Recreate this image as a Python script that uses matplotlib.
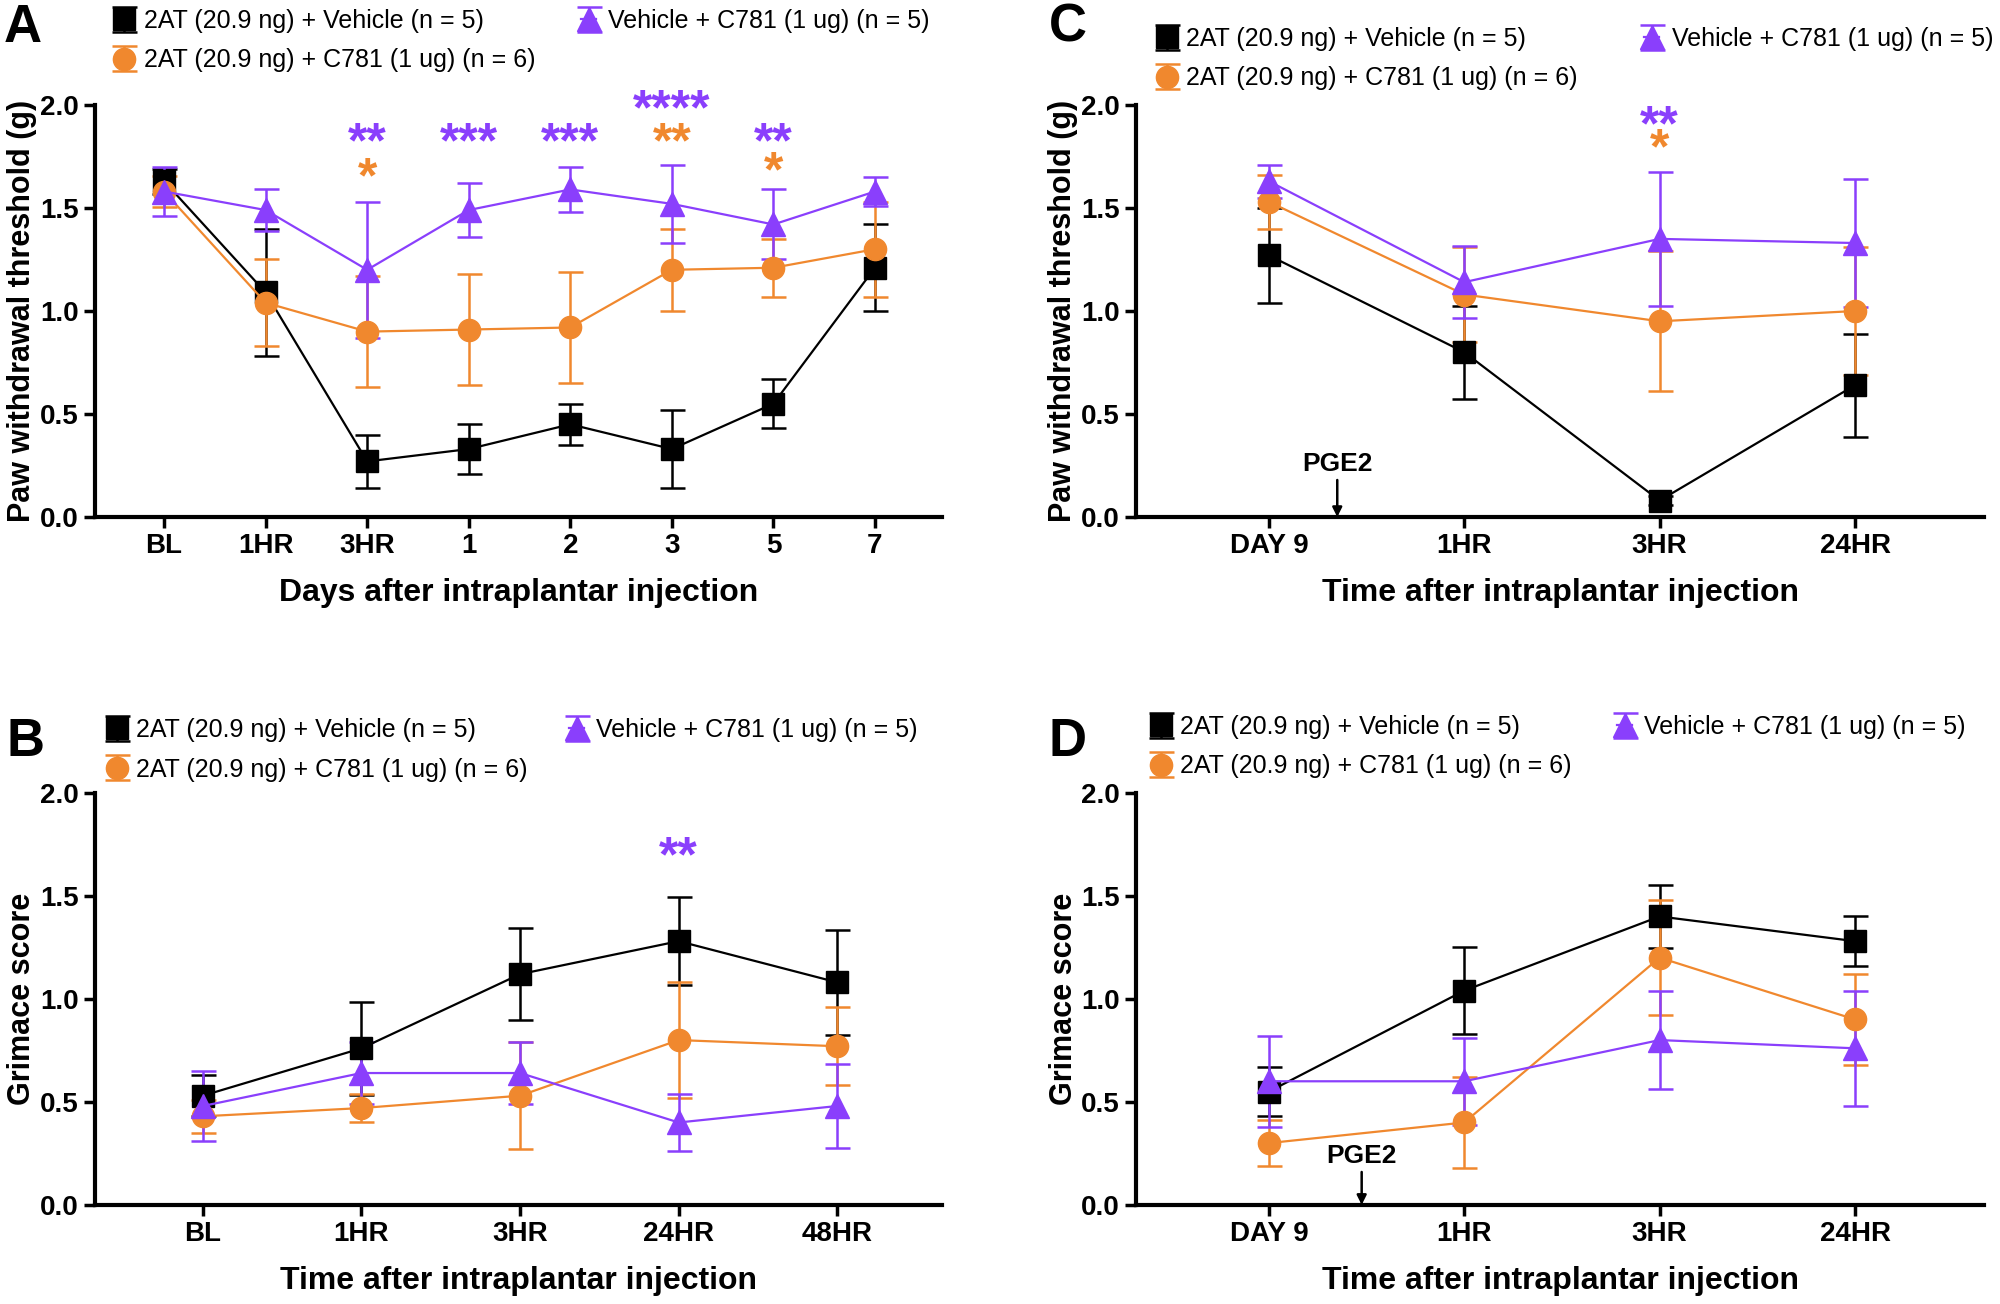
import matplotlib
matplotlib.use('Agg')
import matplotlib.pyplot as plt

BLACK = '#000000'
ORANGE = '#F0882E'
PURPLE = '#8A3FFC'

legend_labels = ['2AT (20.9 ng) + Vehicle (n = 5)',
                 '2AT (20.9 ng) + C781 (1 ug) (n = 6)',
                 'Vehicle + C781 (1 ug) (n = 5)']

# Panel A - paw withdrawal, days
a_ticks = ['BL', '1HR', '3HR', '1', '2', '3', '5', '7']
a_veh = [1.63, 1.09, 0.27, 0.33, 0.45, 0.33, 0.55, 1.21]
a_veh_err = [0.06, 0.31, 0.13, 0.12, 0.10, 0.19, 0.12, 0.21]
a_c781 = [1.58, 1.04, 0.90, 0.91, 0.92, 1.20, 1.21, 1.30]
a_c781_err = [0.075, 0.21, 0.27, 0.27, 0.27, 0.20, 0.14, 0.23]
a_vc = [1.58, 1.49, 1.20, 1.49, 1.59, 1.52, 1.42, 1.58]
a_vc_err = [0.12, 0.10, 0.33, 0.13, 0.11, 0.19, 0.17, 0.07]
a_stars = [(2, '**', PURPLE, 1.86), (2, '*', ORANGE, 1.69),
           (3, '***', PURPLE, 1.86), (4, '***', PURPLE, 1.86),
           (5, '****', PURPLE, 2.02), (5, '**', ORANGE, 1.86),
           (6, '**', PURPLE, 1.86), (6, '*', ORANGE, 1.72)]

# Panel B - grimace, hours
b_ticks = ['BL', '1HR', '3HR', '24HR', '48HR']
b_veh = [0.53, 0.76, 1.12, 1.28, 1.08]
b_veh_err = [0.10, 0.225, 0.225, 0.215, 0.255]
b_c781 = [0.43, 0.47, 0.53, 0.80, 0.77]
b_c781_err = [0.08, 0.068, 0.26, 0.28, 0.19]
b_vc = [0.48, 0.64, 0.64, 0.40, 0.48]
b_vc_err = [0.17, 0.15, 0.15, 0.14, 0.205]
b_stars = [(3, '**', PURPLE, 1.73)]

# Panel C - paw withdrawal after PGE2
c_ticks = ['DAY 9', '1HR', '3HR', '24HR']
c_veh = [1.27, 0.80, 0.08, 0.64]
c_veh_err = [0.23, 0.225, 0.02, 0.25]
c_c781 = [1.53, 1.08, 0.95, 1.00]
c_c781_err = [0.13, 0.23, 0.34, 0.31]
c_vc = [1.63, 1.14, 1.35, 1.33]
c_vc_err = [0.08, 0.175, 0.325, 0.31]
c_stars = [(2, '**', PURPLE, 1.94), (2, '*', ORANGE, 1.83)]
c_pge2 = 0.35

# Panel D - grimace after PGE2
d_ticks = ['DAY 9', '1HR', '3HR', '24HR']
d_veh = [0.55, 1.04, 1.40, 1.28]
d_veh_err = [0.12, 0.21, 0.155, 0.12]
d_c781 = [0.30, 0.40, 1.20, 0.90]
d_c781_err = [0.113, 0.22, 0.28, 0.223]
d_vc = [0.60, 0.60, 0.80, 0.76]
d_vc_err = [0.22, 0.21, 0.236, 0.28]
d_stars = []
d_pge2 = 0.475

plt.rcParams['font.family'] = ['Liberation Sans', 'DejaVu Sans']

fig = plt.figure(figsize=(20, 13.04), dpi=100)


def panel(rect, ticks, data, ylabel, xlabel, stars, pge2=None, pge2_y=0.2):
    ax = fig.add_axes(rect)
    xs = list(range(len(ticks)))
    handles = []
    for (vals, errs, col, mk, ms) in data:
        h = ax.errorbar(xs, vals, yerr=errs, color=col, marker=mk, ms=ms,
                        lw=1.6, elinewidth=1.8, capsize=9, capthick=1.8,
                        clip_on=False, zorder=3)
        handles.append(h)
    ax.set_xlim(-0.68, len(ticks) - 1 + 0.66)
    ax.set_ylim(0, 2.0)
    ax.set_yticks([0, 0.5, 1.0, 1.5, 2.0])
    ax.set_yticklabels(['0.0', '0.5', '1.0', '1.5', '2.0'])
    ax.set_xticks(xs)
    ax.set_xticklabels(ticks)
    for s in ['top', 'right']:
        ax.spines[s].set_visible(False)
    for s in ['left', 'bottom']:
        ax.spines[s].set_linewidth(3)
    ax.tick_params(width=2.5, length=8, direction='out', labelsize=20)
    for lab in ax.get_xticklabels() + ax.get_yticklabels():
        lab.set_fontweight('bold')
    ax.set_ylabel(ylabel, fontsize=22, fontweight='bold', labelpad=2)
    ax.set_xlabel(xlabel, fontsize=23, fontweight='bold', labelpad=14)
    for (i, txt, col, y) in stars:
        # shift so the asterisk glyphs (not the text box) sit at y
        ax.text(i, y - 0.05, txt, color=col, ha='center', va='center',
                fontsize=36, fontweight='bold')
    if pge2 is not None:
        ax.annotate('PGE2', xy=(pge2, 0), xytext=(pge2, pge2_y),
                    ha='center', va='bottom', fontsize=19, fontweight='bold',
                    arrowprops=dict(arrowstyle='-|>', color='k', lw=1.8,
                                    shrinkA=1, shrinkB=0, mutation_scale=14))
    return ax, handles


def series(v, ve, c, ce, p, pe):
    return [(v, ve, BLACK, 's', 16), (c, ce, ORANGE, 'o', 16), (p, pe, PURPLE, '^', 17)]


W = 0.4235
H = 0.316
axA, hA = panel([0.0475, 0.6035, W, H], a_ticks,
                series(a_veh, a_veh_err, a_c781, a_c781_err, a_vc, a_vc_err),
                'Paw withdrawal threshold (g)', 'Days after intraplantar injection', a_stars)
axB, hB = panel([0.0475, 0.076, W, H], b_ticks,
                series(b_veh, b_veh_err, b_c781, b_c781_err, b_vc, b_vc_err),
                'Grimace score', 'Time after intraplantar injection', b_stars)
axC, hC = panel([0.568, 0.6035, 0.424, H], c_ticks,
                series(c_veh, c_veh_err, c_c781, c_c781_err, c_vc, c_vc_err),
                'Paw withdrawal threshold (g)', 'Time after intraplantar injection', c_stars, c_pge2)
axD, hD = panel([0.568, 0.076, 0.424, H], d_ticks,
                series(d_veh, d_veh_err, d_c781, d_c781_err, d_vc, d_vc_err),
                'Grimace score', 'Time after intraplantar injection', d_stars, d_pge2, 0.18)

# legends: black/orange stacked on the left, purple on the right
leg_kw = dict(loc='upper left', frameon=False, handlelength=0.6, handletextpad=0.5,
              labelspacing=0.62, borderpad=0, borderaxespad=0, prop={'size': 18})
for hs, x1, x2, ytop in [(hA, 116, 581, 9), (hB, 109, 569, 718),
                         (hC, 1159, 1644, 27), (hD, 1153, 1617, 715)]:
    fig.legend(hs[:2], legend_labels[:2], bbox_to_anchor=(x1 / 2000, 1 - ytop / 1304), **leg_kw)
    fig.legend(hs[2:], legend_labels[2:], bbox_to_anchor=(x2 / 2000, 1 - ytop / 1304), **leg_kw)

for lx, ly, t in [(0.0115, 0.968, 'A'), (0.0125, 0.420, 'B'),
                  (0.534, 0.968, 'C'), (0.534, 0.420, 'D')]:
    fig.text(lx, ly, t, fontsize=38, fontweight='bold', va='baseline', ha='center')

fig.savefig('out.png', dpi=100)
